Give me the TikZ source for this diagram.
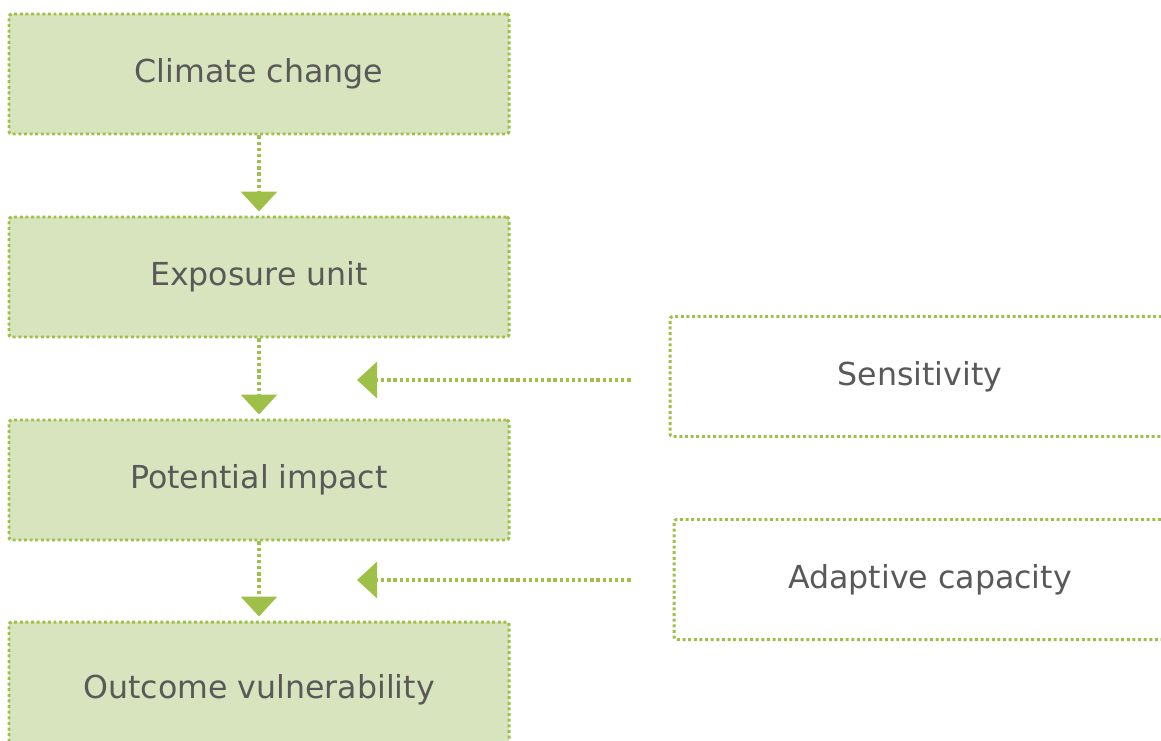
\documentclass[tikz,border=0pt]{standalone}
\usepackage{fontspec}
\setmainfont{DejaVu Sans}
\usetikzlibrary{arrows.meta}
\definecolor{boxfill}{RGB}{215,228,189}
\definecolor{dotgreen}{RGB}{158,192,72}
\definecolor{txtgray}{RGB}{89,89,89}
\begin{document}
\begin{tikzpicture}[line join=round,
	font=\fontsize{18}{22}\selectfont, text=txtgray,
	stage/.style={draw=dotgreen, fill=boxfill, line width=1.7pt, dash pattern=on 1.7pt off 1.5pt,
		rounded corners=1.5pt, minimum width=10cm, minimum height=2.4cm},
	factor/.style={stage, fill=white, minimum width=10.1cm},
	flow/.style={draw=dotgreen, line width=1.9pt, dash pattern=on 1.9pt off 1.6pt,
		-{Triangle[length=0.4cm, width=0.72cm, fill=dotgreen]}}]
	\def\W{23.22} \def\H{14.8}
	\useasboundingbox (0,0) rectangle (\W,\H);
	\clip (0,0) rectangle (\W,\H);
	% main chain
	\node[stage] (climate) at (5.18,13.32) {Climate change};
	\node[stage] (exposure) at (5.18,9.26) {Exposure unit};
	\node[stage] (potential) at (5.18,5.20) {Potential impact};
	\node[stage, minimum height=2.7cm] (outcome) at (5.18,1.01) {Outcome vulnerability};
	% side factors
	\node[factor, minimum width=10cm] (sens) at (18.4,7.27) {Sensitivity};
	\node[factor, minimum width=10.24cm] (adapt) at (18.6,3.21) {Adaptive capacity};
	\coordinate (s1) at (7.14,7.2);
	\coordinate (a1) at (7.14,3.2);
	\draw[flow, shorten >=0.08cm] (climate) -- (exposure);
	\draw[flow, shorten >=0.08cm] (exposure) -- (potential);
	\draw[flow, shorten >=0.08cm] (potential) -- (outcome);
	\draw[flow, shorten <=0.76cm] (sens.west |- s1) -- (s1);
	\draw[flow, shorten <=0.84cm] (adapt.west |- a1) -- (a1);
\end{tikzpicture}
\end{document}
